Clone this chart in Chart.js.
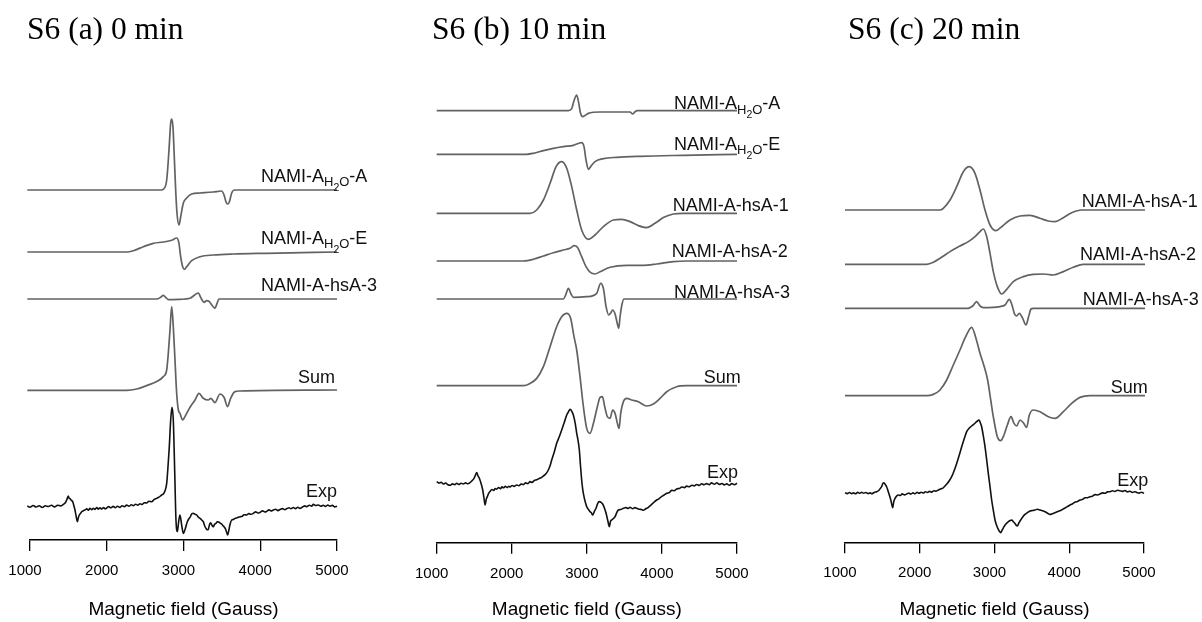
<!DOCTYPE html>
<html>
<head>
<meta charset="utf-8">
<script src="https://cdn.jsdelivr.net/npm/chart.js@4/dist/chart.umd.min.js"></script>
<style>
html, body { margin: 0; padding: 0; background: #fff; width: 1202px; height: 622px; overflow: hidden; }
canvas { position: absolute; top: 0; }
</style>
</head>
<body>
<canvas id="panelA" width="400" height="622" style="left:0"></canvas>
<canvas id="panelB" width="400" height="622" style="left:400px"></canvas>
<canvas id="panelC" width="402" height="622" style="left:800px"></canvas>
<script>
"use strict";

/* ===== DATA: [field (G), intensity (a.u.)] ===== */

// (a) 0 min
const a_h2oA = [[965,0],[2715,0],[2737,0.7],[2781,10],[2811,40],[2833,67],[2846,71],[2863,63],[2880,33],[2898,0],[2915,-23],[2941,-35],[2963,-27],[2998,-13],[3041,-8],[3106,-4],[3215,-3],[3389,-2],[3497,-1],[3528,-5],[3554,-12],[3575,-14],[3597,-12],[3628,-3],[3662,0],[3736,0],[5000,0]];
const a_h2oE = [[965,0],[2259,0],[2346,1.3],[2477,5.3],[2607,8.7],[2737,10],[2846,11.7],[2911,14],[2941,8.7],[2963,-4.7],[2989,-14.7],[3011,-17.3],[3041,-14.7],[3106,-8.7],[3215,-4.7],[3389,-3],[3649,-2],[4084,-1.3],[5000,0]];
const a_hsa3 = [[965,0],[2650,0],[2702,1.7],[2737,3.7],[2772,1.3],[2802,-0.7],[2954,-0.3],[3085,0.7],[3150,4.3],[3193,6],[3228,1],[3267,-3.3],[3302,-1.7],[3336,-2.7],[3376,-6.7],[3410,-9.3],[3436,-4.7],[3462,0],[5000,0]];
const a_sum = [[965,0],[2259,0],[2390,1.3],[2520,4.7],[2650,8.7],[2737,13.7],[2781,20.3],[2802,37],[2824,60.3],[2846,83.7],[2867,63.7],[2889,30.3],[2911,-3],[2933,-19.7],[2954,-23],[2989,-29.7],[3019,-26.3],[3085,-17],[3150,-9.7],[3202,-3],[3258,-8],[3323,-9.7],[3358,-8],[3410,-12.3],[3475,-3.7],[3528,-7],[3575,-16.3],[3614,-8],[3671,-1.3],[3736,-0.7],[5000,0.3]];
const a_exp = [[965,0.7],[1000,-0.5],[1040,1.2],[1080,-0.3],[1120,1],[1160,-0.8],[1200,0.9],[1240,0.2],[1280,1.4],[1320,-0.2],[1360,1.5],[1400,0.8],[1434,2.3],[1460,4],[1478,6.7],[1499,10.7],[1510,8.5],[1521,8],[1540,6.3],[1556,5],[1572,1],[1586,-3.3],[1600,-9],[1617,-15],[1630,-11],[1643,-8.3],[1660,-6.5],[1673,-5],[1695,-4],[1717,-3.3],[1740,-2.2],[1760,-3.4],[1782,-1.7],[1805,-3],[1825,-1.5],[1847,-2.7],[1870,-0.8],[1890,-2.4],[1912,-1],[1935,-2.3],[1960,-0.9],[1980,-2.2],[2000,-1.2],[2025,0.2],[2050,-1.1],[2086,0.3],[2110,-1],[2140,0.5],[2173,-0.7],[2200,1],[2230,0],[2259,1.6],[2290,0.5],[2320,2],[2346,1],[2375,2.5],[2405,1.5],[2433,3],[2460,2.2],[2490,4],[2520,3.7],[2550,5.5],[2585,5],[2615,7],[2650,8.3],[2680,9.5],[2715,11.7],[2740,13],[2759,16],[2781,23.3],[2798,40],[2815,60],[2833,86.7],[2850,99.3],[2867,86.7],[2885,36.7],[2902,-13.3],[2920,-25],[2937,-15],[2954,-8.3],[2976,-18.3],[2998,-26.7],[3024,-21.7],[3050,-15],[3070,-12],[3085,-10.7],[3110,-7],[3128,-6.7],[3150,-7.5],[3172,-8.3],[3195,-10.5],[3215,-11.7],[3240,-13.5],[3258,-15],[3275,-19],[3293,-21.7],[3310,-23],[3323,-22.7],[3340,-17.5],[3354,-16],[3370,-18.5],[3389,-20],[3405,-17.5],[3423,-16.7],[3440,-15],[3458,-15.3],[3478,-16.5],[3497,-17.3],[3515,-19],[3528,-20],[3545,-22],[3560,-25],[3575,-28.3],[3590,-24],[3605,-18],[3628,-13.3],[3650,-12.8],[3671,-11.7],[3700,-11],[3736,-10],[3760,-9.8],[3790,-8],[3823,-8.3],[3850,-6.9],[3880,-7.6],[3910,-6.7],[3940,-5.2],[3970,-6.3],[3997,-5.7],[4030,-4.2],[4060,-5.3],[4084,-4.7],[4115,-3.2],[4140,-4.3],[4170,-3.3],[4200,-2.6],[4230,-3.9],[4257,-2.8],[4290,-1.9],[4320,-3],[4344,-2],[4375,-1],[4400,-2.1],[4431,-0.8],[4460,-1.9],[4490,-0.6],[4518,-1.7],[4550,-0.3],[4580,0.8],[4605,0],[4640,1.5],[4670,0.6],[4692,2.3],[4720,1.2],[4757,1.7],[4790,0.4],[4822,1.5],[4850,0.3],[4880,1.6],[4909,0.6],[4940,1.3],[4970,-0.2],[5000,0.5]];

// (b) 10 min
const b_h2oA = [[1000,0],[2754,0],[2798,2],[2829,10],[2865,15.7],[2891,8],[2914,-2],[2945,-6],[2976,-4.7],[3020,-2.7],[3176,-1.3],[3575,-1.3],[3611,-3.3],[3642,-1],[3673,0],[5000,0]];
const b_h2oE = [[1000,0],[2199,0],[2288,1],[2421,3.7],[2554,6],[2687,7.7],[2820,9],[2931,11.7],[2962,7.7],[2989,-5.7],[3020,-15],[3051,-12.3],[3109,-7.3],[3220,-4.3],[3398,-3],[3708,-2],[4286,-1],[5000,0]];
const b_hsa1 = [[1000,0],[2243,0],[2332,3.3],[2421,13.3],[2510,30],[2590,46.7],[2665,51.7],[2732,45],[2798,26.7],[2865,3.3],[2931,-16.7],[3020,-26],[3109,-21.7],[3220,-13.3],[3353,-6.7],[3464,-6],[3575,-8.3],[3686,-12.3],[3797,-14.3],[3908,-10],[4019,-4.3],[4152,-0.7],[4286,0],[5000,0]];
const b_hsa2 = [[1000,0],[2154,0],[2288,1.7],[2421,5],[2554,8.3],[2687,11],[2776,12.7],[2829,15.3],[2874,13.7],[2931,4.3],[2989,-5.7],[3051,-11.7],[3109,-13],[3176,-10.7],[3309,-6.3],[3531,-4.3],[3753,-4.3],[3930,-3],[4152,-0.7],[4330,0],[5000,0]];
const b_hsa3 = [[1000,0],[2687,0],[2718,4],[2754,10.7],[2789,5],[2820,1.7],[2998,2.3],[3131,5.7],[3184,15.7],[3220,10.7],[3256,-7.7],[3292,-16],[3318,-14],[3344,-11],[3376,-15],[3407,-25],[3425,-29.3],[3442,-18],[3469,-5],[3495,0],[5000,0]];
const b_sum = [[1000,0],[2154,0],[2243,2.3],[2332,7.3],[2421,19],[2510,39],[2598,59],[2665,69],[2732,72.3],[2785,67.3],[2829,49],[2865,35.7],[2909,9],[2954,-21],[2998,-42.7],[3042,-47.7],[3087,-37.7],[3140,-21],[3176,-11.7],[3207,-11],[3238,-21],[3273,-31],[3309,-32.7],[3344,-24.3],[3376,-27.7],[3407,-37.7],[3429,-42.7],[3451,-27.7],[3486,-16],[3531,-12.7],[3597,-14.3],[3686,-16],[3797,-20.3],[3886,-18.3],[3975,-12.7],[4064,-6],[4197,-1],[4330,0],[5000,0]];
const b_exp = [[1000,1.7],[1030,0.2],[1060,1],[1089,-0.7],[1120,0.3],[1150,-1.5],[1178,-2],[1210,-0.6],[1240,-1.4],[1266,0],[1295,-1.2],[1325,0.1],[1355,-0.7],[1385,0.4],[1415,-0.5],[1444,0.7],[1470,2.5],[1497,5],[1515,8],[1533,10.7],[1550,7.5],[1568,5],[1590,0],[1613,-6.7],[1630,-15],[1644,-21.7],[1660,-16],[1675,-13.3],[1692,-10],[1710,-8.3],[1735,-6.2],[1760,-7.1],[1780,-5.3],[1799,-5.9],[1825,-4.2],[1850,-5.3],[1870,-3.6],[1888,-4.5],[1915,-3.1],[1940,-4.3],[1960,-2.9],[1977,-3.6],[2005,-2.2],[2030,-3.1],[2066,-1.7],[2095,-2.4],[2125,-0.8],[2154,-1.3],[2185,0.4],[2215,-0.4],[2243,1.7],[2270,0.9],[2300,2.8],[2332,3.6],[2360,4.6],[2390,5.6],[2421,7.3],[2455,9.5],[2487,13.3],[2510,17.5],[2532,23.3],[2565,31],[2598,40],[2630,46],[2665,53.3],[2700,61],[2732,68.3],[2755,71.5],[2776,74],[2800,72],[2820,68.3],[2845,60],[2865,50],[2880,44],[2900,33.3],[2915,18],[2931,3.3],[2945,-6],[2962,-13.3],[2980,-19],[2998,-23.3],[3020,-26],[3042,-28.3],[3060,-29.5],[3078,-31.7],[3100,-28],[3122,-25],[3145,-20],[3167,-18.3],[3190,-19],[3211,-20.7],[3235,-25],[3256,-30],[3278,-37],[3300,-43.3],[3315,-38],[3331,-36.7],[3350,-35.5],[3376,-33.3],[3400,-29],[3420,-26.7],[3450,-26.2],[3486,-25],[3520,-24.3],[3550,-25.2],[3575,-24],[3610,-25.4],[3640,-24.3],[3664,-25],[3700,-25.9],[3730,-26.3],[3753,-27],[3785,-25.5],[3819,-24],[3850,-22],[3885,-19.5],[3930,-16.7],[3960,-15.5],[3990,-13.5],[4025,-12],[4064,-10],[4100,-9.2],[4130,-7.1],[4165,-7.4],[4197,-5.6],[4230,-5.2],[4265,-3.7],[4300,-4.3],[4330,-2.8],[4365,-3.4],[4400,-1.9],[4430,-2.6],[4463,-1.2],[4500,-2.1],[4530,-0.4],[4560,-1.5],[4596,-0.3],[4630,-1.4],[4660,0.4],[4700,-0.9],[4730,0.5],[4765,-1.1],[4800,-0.2],[4830,-1.6],[4863,-0.6],[4900,-1.9],[4930,-0.3],[4965,-1.5],[5000,0]];

// (c) 20 min
const c_hsa1 = [[1000,0],[2271,0],[2315,1.7],[2405,10],[2494,23.3],[2583,38.3],[2663,43.3],[2739,36.7],[2806,20],[2873,0],[2940,-15],[3020,-20.7],[3096,-16.7],[3207,-10],[3341,-6],[3475,-5.3],[3609,-8.3],[3720,-11],[3809,-11.7],[3921,-7.7],[4032,-2.7],[4166,0],[5013,0]];
const c_hsa2 = [[1000,0],[2092,0],[2182,2],[2271,6],[2405,12.7],[2538,18.3],[2650,22.7],[2739,27.7],[2806,32.7],[2851,35.3],[2895,27.7],[2940,11],[2984,-7.3],[3038,-22.3],[3096,-29.7],[3163,-25],[3252,-17.3],[3386,-12.3],[3519,-10],[3653,-9.7],[3787,-10.7],[3921,-7.3],[4054,-3],[4188,0],[5013,0]];
const c_hsa3 = [[1000,0],[2650,0],[2708,2.3],[2761,6.7],[2806,2.3],[2851,0.7],[3073,1.7],[3140,3.3],[3198,9],[3234,3.3],[3265,-5],[3296,-7.7],[3332,-5],[3377,-10],[3421,-16.7],[3457,-8.3],[3488,-0.7],[3519,0],[5013,0]];
const c_sum = [[1000,0],[2092,0],[2182,1.3],[2271,5.7],[2360,15.7],[2449,30.7],[2538,45.7],[2614,59],[2694,68.4],[2761,55],[2806,42.4],[2859,30],[2908,15.7],[2949,-4],[2984,-21],[3038,-41],[3082,-45],[3127,-39.3],[3172,-29.3],[3221,-21],[3261,-27.7],[3296,-30.3],[3341,-24.3],[3386,-27],[3430,-31.7],[3466,-19.3],[3519,-14.3],[3609,-16],[3720,-21],[3809,-22.7],[3921,-16],[4032,-7.7],[4144,-1.7],[4277,0],[5013,0]];
const c_exp = [[1000,0],[1030,-0.9],[1060,0.2],[1090,-0.9],[1111,-0.2],[1140,-1],[1170,0.3],[1200,-0.6],[1223,0.5],[1250,-0.6],[1280,0.2],[1310,-0.9],[1334,-0.2],[1360,-1],[1390,0.3],[1424,1],[1455,2.5],[1475,4.5],[1490,6],[1505,9],[1522,10],[1540,8],[1557,6],[1575,2],[1593,-2.3],[1615,-8],[1638,-15],[1652,-9],[1669,-5.7],[1690,-3.4],[1713,-2.3],[1740,-2.8],[1765,-1.2],[1795,-2.2],[1825,-1.3],[1855,-0.3],[1880,-1.4],[1910,-0.2],[1936,-1.1],[1965,0.4],[1990,-0.6],[2020,0.5],[2048,-0.3],[2075,1],[2105,0.2],[2130,1.4],[2159,0.6],[2190,1.9],[2220,1.6],[2249,2.7],[2280,3.8],[2310,4.6],[2338,6.7],[2365,9],[2395,12],[2427,16],[2460,22],[2494,29.3],[2530,38],[2561,46],[2595,54],[2628,61],[2660,64.5],[2694,66.7],[2725,68.5],[2761,71],[2793,72.7],[2810,70],[2828,66],[2850,57],[2873,46],[2895,33],[2917,19.3],[2940,6],[2962,-7.3],[2985,-18],[3007,-27.3],[3030,-33],[3051,-36.7],[3065,-38.5],[3082,-40],[3105,-37],[3127,-34],[3155,-31],[3185,-29],[3210,-27.8],[3230,-27.3],[3252,-29],[3274,-30.7],[3290,-32.5],[3305,-33.3],[3328,-30],[3350,-27.3],[3380,-24],[3408,-21.7],[3440,-20],[3475,-18.3],[3510,-17.8],[3542,-17.3],[3575,-16.5],[3609,-17.3],[3640,-18],[3675,-19],[3710,-20.5],[3742,-21.7],[3775,-21],[3809,-20],[3850,-18.8],[3898,-17.3],[3930,-15.8],[3970,-14.2],[4010,-12.3],[4040,-11.3],[4075,-9.5],[4110,-8.7],[4144,-7.3],[4180,-6.6],[4210,-5.1],[4245,-5],[4277,-4],[4310,-3.5],[4345,-1.9],[4380,-2.3],[4411,-1.3],[4445,-0.2],[4480,-0.6],[4510,0.8],[4545,1],[4580,1.9],[4610,1.2],[4645,2.4],[4679,2],[4710,1.3],[4745,2.2],[4780,0.8],[4812,1.5],[4845,0.2],[4875,1],[4902,0.3],[4935,-0.4],[4965,0.5],[5000,-0.7]];

// trace names and vertical stacking offsets per panel
const namesA = ["NAMI-A_H2O-A", "NAMI-A_H2O-E", "NAMI-A-hsA-3", "Sum", "Exp"];
const namesB = ["NAMI-A_H2O-A", "NAMI-A_H2O-E", "NAMI-A-hsA-1", "NAMI-A-hsA-2", "NAMI-A-hsA-3", "Sum", "Exp"];
const namesC = ["NAMI-A-hsA-1", "NAMI-A-hsA-2", "NAMI-A-hsA-3", "Sum", "Exp"];
const offsetsA = [350, 288, 241, 149.7, 33.3];
const offsetsB = [432, 388.4, 329.4, 281.7, 243.7, 157, 59.4];
const offsetsC = [332.3, 278, 234, 146.6, 49.6];
const fieldTicks = [1000, 2000, 3000, 4000, 5000];

/* ===== LAYOUT ===== */
// label anchor: [field, px above baseline, align]
const labelPosA = [[4010, 8, "left"], [4010, 8, "left"], [4010, 8, "left"], [4974, 7.3, "right"], [5000, 9.7, "right"]];
const labelPosB = [[4161, 1.4, "left"], [4161, 4.3, "left"], [4143, 2.3, "left"], [4130, 4.3, "left"], [4161, 0.7, "left"], [5049, 2.4, "right"], [5013, 5, "right"]];
const labelPosC = [[4167, 3.3, "left"], [4144, 4.3, "left"], [4180, 3.3, "left"], [5050, 3, "right"], [5058, 7, "right"]];

const panels = [
    { id: "panelA", title: "S6 (a) 0 min", titleX: 27, left: 30, right: 63, axisY: 540,
      series: [a_h2oA, a_h2oE, a_hsa3, a_sum, a_exp], names: namesA, offsets: offsetsA, labelPos: labelPosA },
    { id: "panelB", title: "S6 (b) 10 min", titleX: 32, left: 36.7, right: 63, axisY: 542.7,
      series: [b_h2oA, b_h2oE, b_hsa1, b_hsa2, b_hsa3, b_sum, b_exp], names: namesB, offsets: offsetsB, labelPos: labelPosB },
    { id: "panelC", title: "S6 (c) 20 min", titleX: 48, left: 45, right: 58, axisY: 542.3,
      series: [c_hsa1, c_hsa2, c_hsa3, c_sum, c_exp], names: namesC, offsets: offsetsC, labelPos: labelPosC }
];

const TOP = 80;
const SANS = '"Liberation Sans", Arial, sans-serif';

// "NAMI-A_H2O-A" -> NAMI-A with subscript H2O
function segments(name) {
    const i = name.indexOf("_H2O");
    if (i < 0) return [[name, 0]];
    return [[name.slice(0, i), 0], ["H", 1], ["2", 2], ["O", 1], [name.slice(i + 4), 0]];
}
const segStyle = [{ size: 18, dy: 0 }, { size: 13, dy: 4.3 }, { size: 10.5, dy: 8.5 }];

function drawName(ctx, name, x, y, align) {
    const segs = segments(name);
    let w = 0;
    segs.forEach(([t, k]) => { ctx.font = segStyle[k].size + "px " + SANS; w += ctx.measureText(t).width; });
    if (align === "right") x -= w;
    segs.forEach(([t, k]) => {
        ctx.font = segStyle[k].size + "px " + SANS;
        ctx.fillText(t, x, y + segStyle[k].dy);
        x += ctx.measureText(t).width;
    });
}

const labelPlugin = {
    id: "traceLabels",
    afterDatasetsDraw(chart, args, opts) {
        const { ctx } = chart;
        const x = chart.scales.x, y = chart.scales.y;
        ctx.save();
        ctx.fillStyle = "#111";
        ctx.textAlign = "left";
        ctx.textBaseline = "alphabetic";
        chart.data.datasets.forEach(ds => {
            const px = x.getPixelForValue(ds.labelAt[0]);
            const py = y.getPixelForValue(ds.offset) - ds.labelAt[1];
            drawName(ctx, ds.label, px, py, ds.labelAt[2]);
        });
        ctx.fillStyle = "#000";
        ctx.font = '31.5px "Liberation Serif", "Times New Roman", serif';
        ctx.fillText(opts.title, opts.titleX, 39);
        ctx.restore();
    }
};

/* ===== RENDER ===== */
panels.forEach(p => {
    const canvas = document.getElementById(p.id);
    const scaleH = canvas.height - p.axisY;          // room under the plot
    const titleSize = 19;
    const titlePadTop = scaleH - (11 + 22 + 18 + titleSize * 1.2) - 1.2;

    const datasets = p.series.map((s, i) => {
        const isExp = p.names[i] === "Exp";
        return {
            label: p.names[i],
            offset: p.offsets[i],
            labelAt: p.labelPos[i],
            data: s.map(([g, v]) => ({ x: g, y: v + p.offsets[i] })),
            borderColor: isExp ? "#111" : "#626262",
            borderWidth: isExp ? 1.6 : 1.7,
            pointRadius: 0,
            cubicInterpolationMode: "monotone",
            clip: false
        };
    });

    new Chart(canvas, {
        type: "line",
        data: { datasets },
        options: {
            responsive: false,
            animation: false,
            devicePixelRatio: 1,
            layout: { padding: { left: p.left, right: p.right, top: TOP, bottom: 0 } },
            plugins: {
                legend: { display: false },
                tooltip: { enabled: false },
                traceLabels: { title: p.title, titleX: p.titleX }
            },
            scales: {
                x: {
                    type: "linear",
                    min: fieldTicks[0],
                    max: fieldTicks[fieldTicks.length - 1],
                    afterBuildTicks: axis => { axis.ticks = fieldTicks.map(v => ({ value: v })); },
                    grid: { drawOnChartArea: false, drawTicks: true, tickLength: 11, color: "#000", lineWidth: 1.3 },
                    border: { display: true, color: "#000", width: 1.5 },
                    ticks: {
                        color: "#000", font: { family: SANS, size: 15 }, padding: 11, labelOffset: -5, maxRotation: 0,
                        callback: v => String(v)
                    },
                    title: {
                        display: true,
                        text: "Magnetic field (Gauss)",
                        color: "#000",
                        font: { family: SANS, size: titleSize },
                        padding: { top: titlePadTop, bottom: 1.2 }
                    }
                },
                y: { display: false, min: 0, max: p.axisY - TOP }
            }
        },
        plugins: [labelPlugin]
    });
});
</script>
</body>
</html>
